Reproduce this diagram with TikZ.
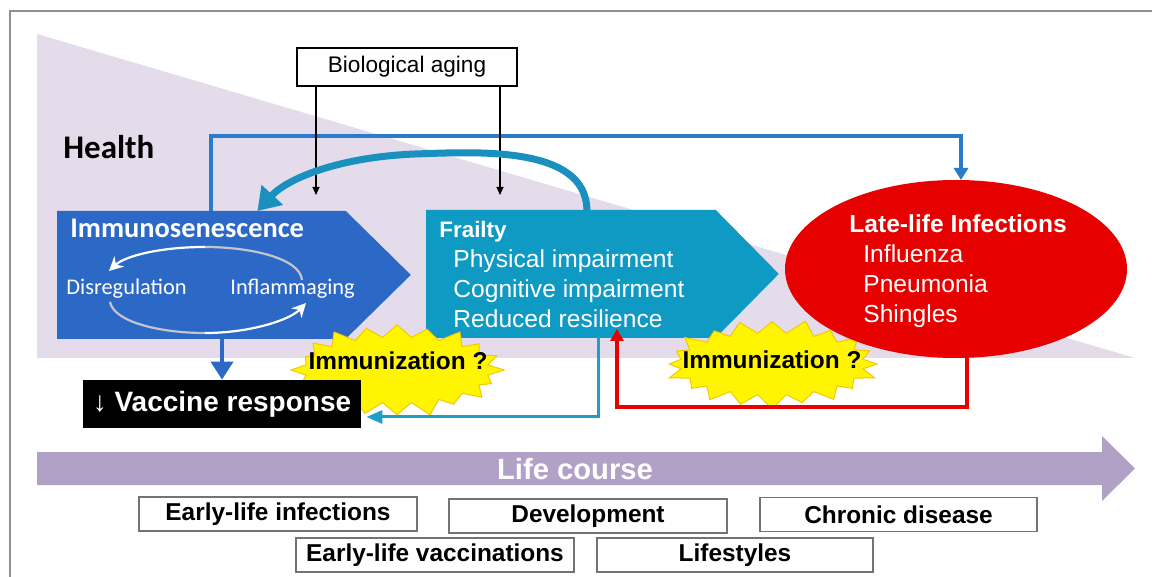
\documentclass[tikz,border=0pt]{standalone}
\usepackage{fontspec}
\setmainfont{Liberation Sans}
\newfontfamily\calfont{Carlito}
\usetikzlibrary{arrows.meta,shapes.geometric,calc}
\definecolor{lav}{HTML}{E4DCEA}
\definecolor{lifecol}{HTML}{B2A1C7}
\definecolor{immcol}{HTML}{2C69C7}
\definecolor{frcol}{HTML}{0F9AC4}
\definecolor{redcol}{HTML}{E60000}
\definecolor{loopblue}{HTML}{2A7BCB}
\definecolor{tealline}{HTML}{1E9FCB}
\definecolor{curvecol}{HTML}{1A90BF}
\definecolor{burstY}{HTML}{FFF500}
\definecolor{burstB}{HTML}{F5C800}
\definecolor{framecol}{HTML}{909090}
\definecolor{circgray}{HTML}{C4C4CC}
\begin{document}
\begin{tikzpicture}[x=0.5pt,y=-0.5pt,
  txt/.style={inner sep=0pt, anchor=base west},
  whitebold/.style={txt, text=white, font=\bfseries\fontsize{12.3}{14}\selectfont},
  whitereg/.style={txt, text=white, font=\fontsize{12.3}{14}\selectfont},
  lowbox/.style={draw=black!55, line width=0.6pt, fill=white, minimum width=139pt, minimum height=17pt, inner sep=0pt, font=\bfseries\fontsize{12.2}{14}\selectfont},
  burst/.style={fill=burstY, draw=burstB, line width=0.5pt},
  bursttext/.style={inner sep=0pt, anchor=base, font=\bfseries\fontsize{12.2}{14}\selectfont},
  thinarrow/.style={draw=black, line width=0.6pt, -{Triangle[width=3.5pt,length=4pt]}},
  circarrow/.style={line width=1.1pt}
]
\useasboundingbox (0,0) rectangle (1152,577);
\fill[white] (0,0) rectangle (1152,577);
\draw[framecol, line width=0.8pt] (10,577) -- (10,11) -- (1152,11);

% health triangle
\fill[lav] (37,34) -- (1135,358) -- (37,358) -- cycle;

% life course arrow
\fill[lifecol] (37,452) -- (1102,452) -- (1102,436) -- (1135,468.5) -- (1102,501) -- (1102,485) -- (37,485) -- cycle;
\node[inner sep=0pt, anchor=base, text=white, font=\bfseries\fontsize{14.6}{16}\selectfont] (life) at (575,480) {Life course};

% Health label
\node[txt, font=\calfont\bfseries\fontsize{16.5}{18}\selectfont] (health) at (63,159) {Health};

% biological aging
\node[draw=black, line width=0.6pt, fill=white, minimum width=110pt, minimum height=19pt, inner sep=0pt, font=\fontsize{11.3}{13}\selectfont] (bio) at (407,67) {Biological aging};

% main nodes
\node[minimum width=144pt, minimum height=63.5pt, inner sep=0pt, anchor=north west] (imm) at (57,211) {};
\fill[immcol] (imm.north west) -- (imm.north east) -- ($(imm.east)+(65,0)$) -- (imm.south east) -- (imm.south west) -- cycle;
\node[minimum width=144.5pt, minimum height=63.5pt, inner sep=0pt, anchor=north west] (fr) at (426,210) {};
\fill[frcol] (fr.north west) -- (fr.north east) -- ($(fr.east)+(63,0)$) -- (fr.south east) -- (fr.south west) -- cycle;

% health loop
\coordinate (hl) at (211,136);
\draw[loopblue, line width=1.8pt, -{Triangle[width=7pt,length=6pt]}] (hl |- imm.north) -- (hl) -- (hl -| 961,0) -- (961,180);

% biological aging arrows
\coordinate (ba1) at (316,195);
\coordinate (ba2) at (500,195);
\draw[thinarrow] (bio.south -| ba1) -- (ba1);
\draw[thinarrow] (bio.south -| ba2) -- (ba2);

% curved arrow frailty -> immunosenescence
\draw[curvecol, line width=3.5pt, -{Triangle[width=14pt,length=11pt]}]
  ([xshift=8pt]fr.north) .. controls (586,145) and (475,152) .. (415,154)
  .. controls (340,157) and (288,178) .. ([xshift=28pt]imm.north);

% texts inside immunosenescence
\node[txt, text=white, font=\calfont\bfseries\fontsize{14.2}{16}\selectfont] (immt) at (70,238) {Immunosenescence};
\node[txt, text=white, font=\calfont\fontsize{11.2}{13}\selectfont] (dis) at (66,295) {Disregulation};
\node[txt, text=white, font=\calfont\fontsize{11.2}{13}\selectfont] (infl) at (230,295) {Inflammaging};
\draw[circarrow, circgray] (302,280) .. controls (300,258) and (250,247) .. (205,247);
\draw[circarrow, white, -{Stealth[width=7pt,length=7pt]}] (205,247) .. controls (160,247) and (125,256) .. (109,271);
\draw[circarrow, circgray] (110,302) .. controls (114,322) and (160,333) .. (205,333);
\draw[circarrow, white, -{Stealth[width=7pt,length=7pt]}] (205,333) .. controls (250,333) and (290,320) .. (306,303);

% frailty texts
\node[txt, text=white, font=\bfseries\fontsize{11.2}{13}\selectfont] (frt) at (439,238) {Frailty};
\node[whitereg] (fr1) at (453,268) {Physical impairment};
\node[whitereg] (fr2) at (453,298) {Cognitive impairment};
\node[whitereg] (fr3) at (453,328) {Reduced resilience};

% starbursts
\coordinate (sb1) at (397,370);
\coordinate (sb2) at (772,364);
\begin{scope}[shift={(sb1)}]
\filldraw[burst] (-9:92 and 33)
  \foreach \k/\f in {0/1,1/.93,2/.98,3/.9,4/1,5/.95,6/.97,7/.92,8/1,9/.94,10/.99,11/.9,12/.97,13/1,14/.93,15/.96,16/.91,17/1,18/.95,19/.98}
  { -- ({\k*18}:{107*\f} and {47*\f}) -- ({\k*18+9}:92 and 33) } -- cycle;
\end{scope}
\begin{scope}[shift={(sb2)}]
\filldraw[burst] (-9:92 and 31)
  \foreach \k/\f in {0/.97,1/1,2/.92,3/.97,4/.9,5/1,6/.94,7/.98,8/.92,9/1,10/.95,11/.93,12/1,13/.91,14/.97,15/.94,16/1,17/.92,18/.98,19/.95}
  { -- ({\k*18}:{108*\f} and {45*\f}) -- ({\k*18+9}:92 and 31) } -- cycle;
\end{scope}
\node[bursttext] (sb1t) at (398,370) {Immunization ?};
\node[bursttext] (sb2t) at (772,369) {Immunization ?};

% late-life infections
\node[ellipse, fill=redcol, minimum width=171pt, minimum height=89pt, inner sep=0pt] (inf) at (956,269) {};
\node[whitebold] (inft) at (849,233) {Late-life Infections};
\node[whitereg] (inf1) at (863,263) {Influenza};
\node[whitereg] (inf2) at (863,293) {Pneumonia};
\node[whitereg] (inf3) at (863,323) {Shingles};

% vaccine response
\node[fill=black, minimum width=139pt, minimum height=24pt, inner sep=0pt, text=white, font=\bfseries\fontsize{14}{16}\selectfont] (vac) at (222,404) {{\mdseries ↓} Vaccine response};
\draw[immcol, line width=2pt, -{Triangle[width=11pt,length=9pt]}] (imm.south -| vac.north) -- (vac.north);

% frailty -> vaccine
\coordinate (tl) at (598,417);
\draw[tealline, line width=1.5pt, -{Triangle[width=6.5pt,length=8pt]}] (fr.south -| tl) -- (tl) -- ([xshift=2.5pt]tl -| vac.east);

% infections -> frailty
\coordinate (rl) at (617,407);
\coordinate (rt) at (617,329);
\draw[redcol, line width=1.6pt, -{Triangle[width=6.5pt,length=6pt]}] ([xshift=5.5pt]inf.south) -- ([xshift=5.5pt]inf.south |- rl) -- (rl) -- (rt);

% life-course boxes
\node[lowbox] (eli) at (278,514) {Early-life infections};
\node[lowbox] (dev) at (588,516) {Development};
\node[lowbox, minimum width=138.5pt] (chr) at (898.5,514.5) {Chronic disease};
\node[lowbox] (elv) at (435,555) {Early-life vaccinations};
\node[lowbox, minimum width=138pt] (lif) at (735,555) {Lifestyles};
\end{tikzpicture}
\end{document}
